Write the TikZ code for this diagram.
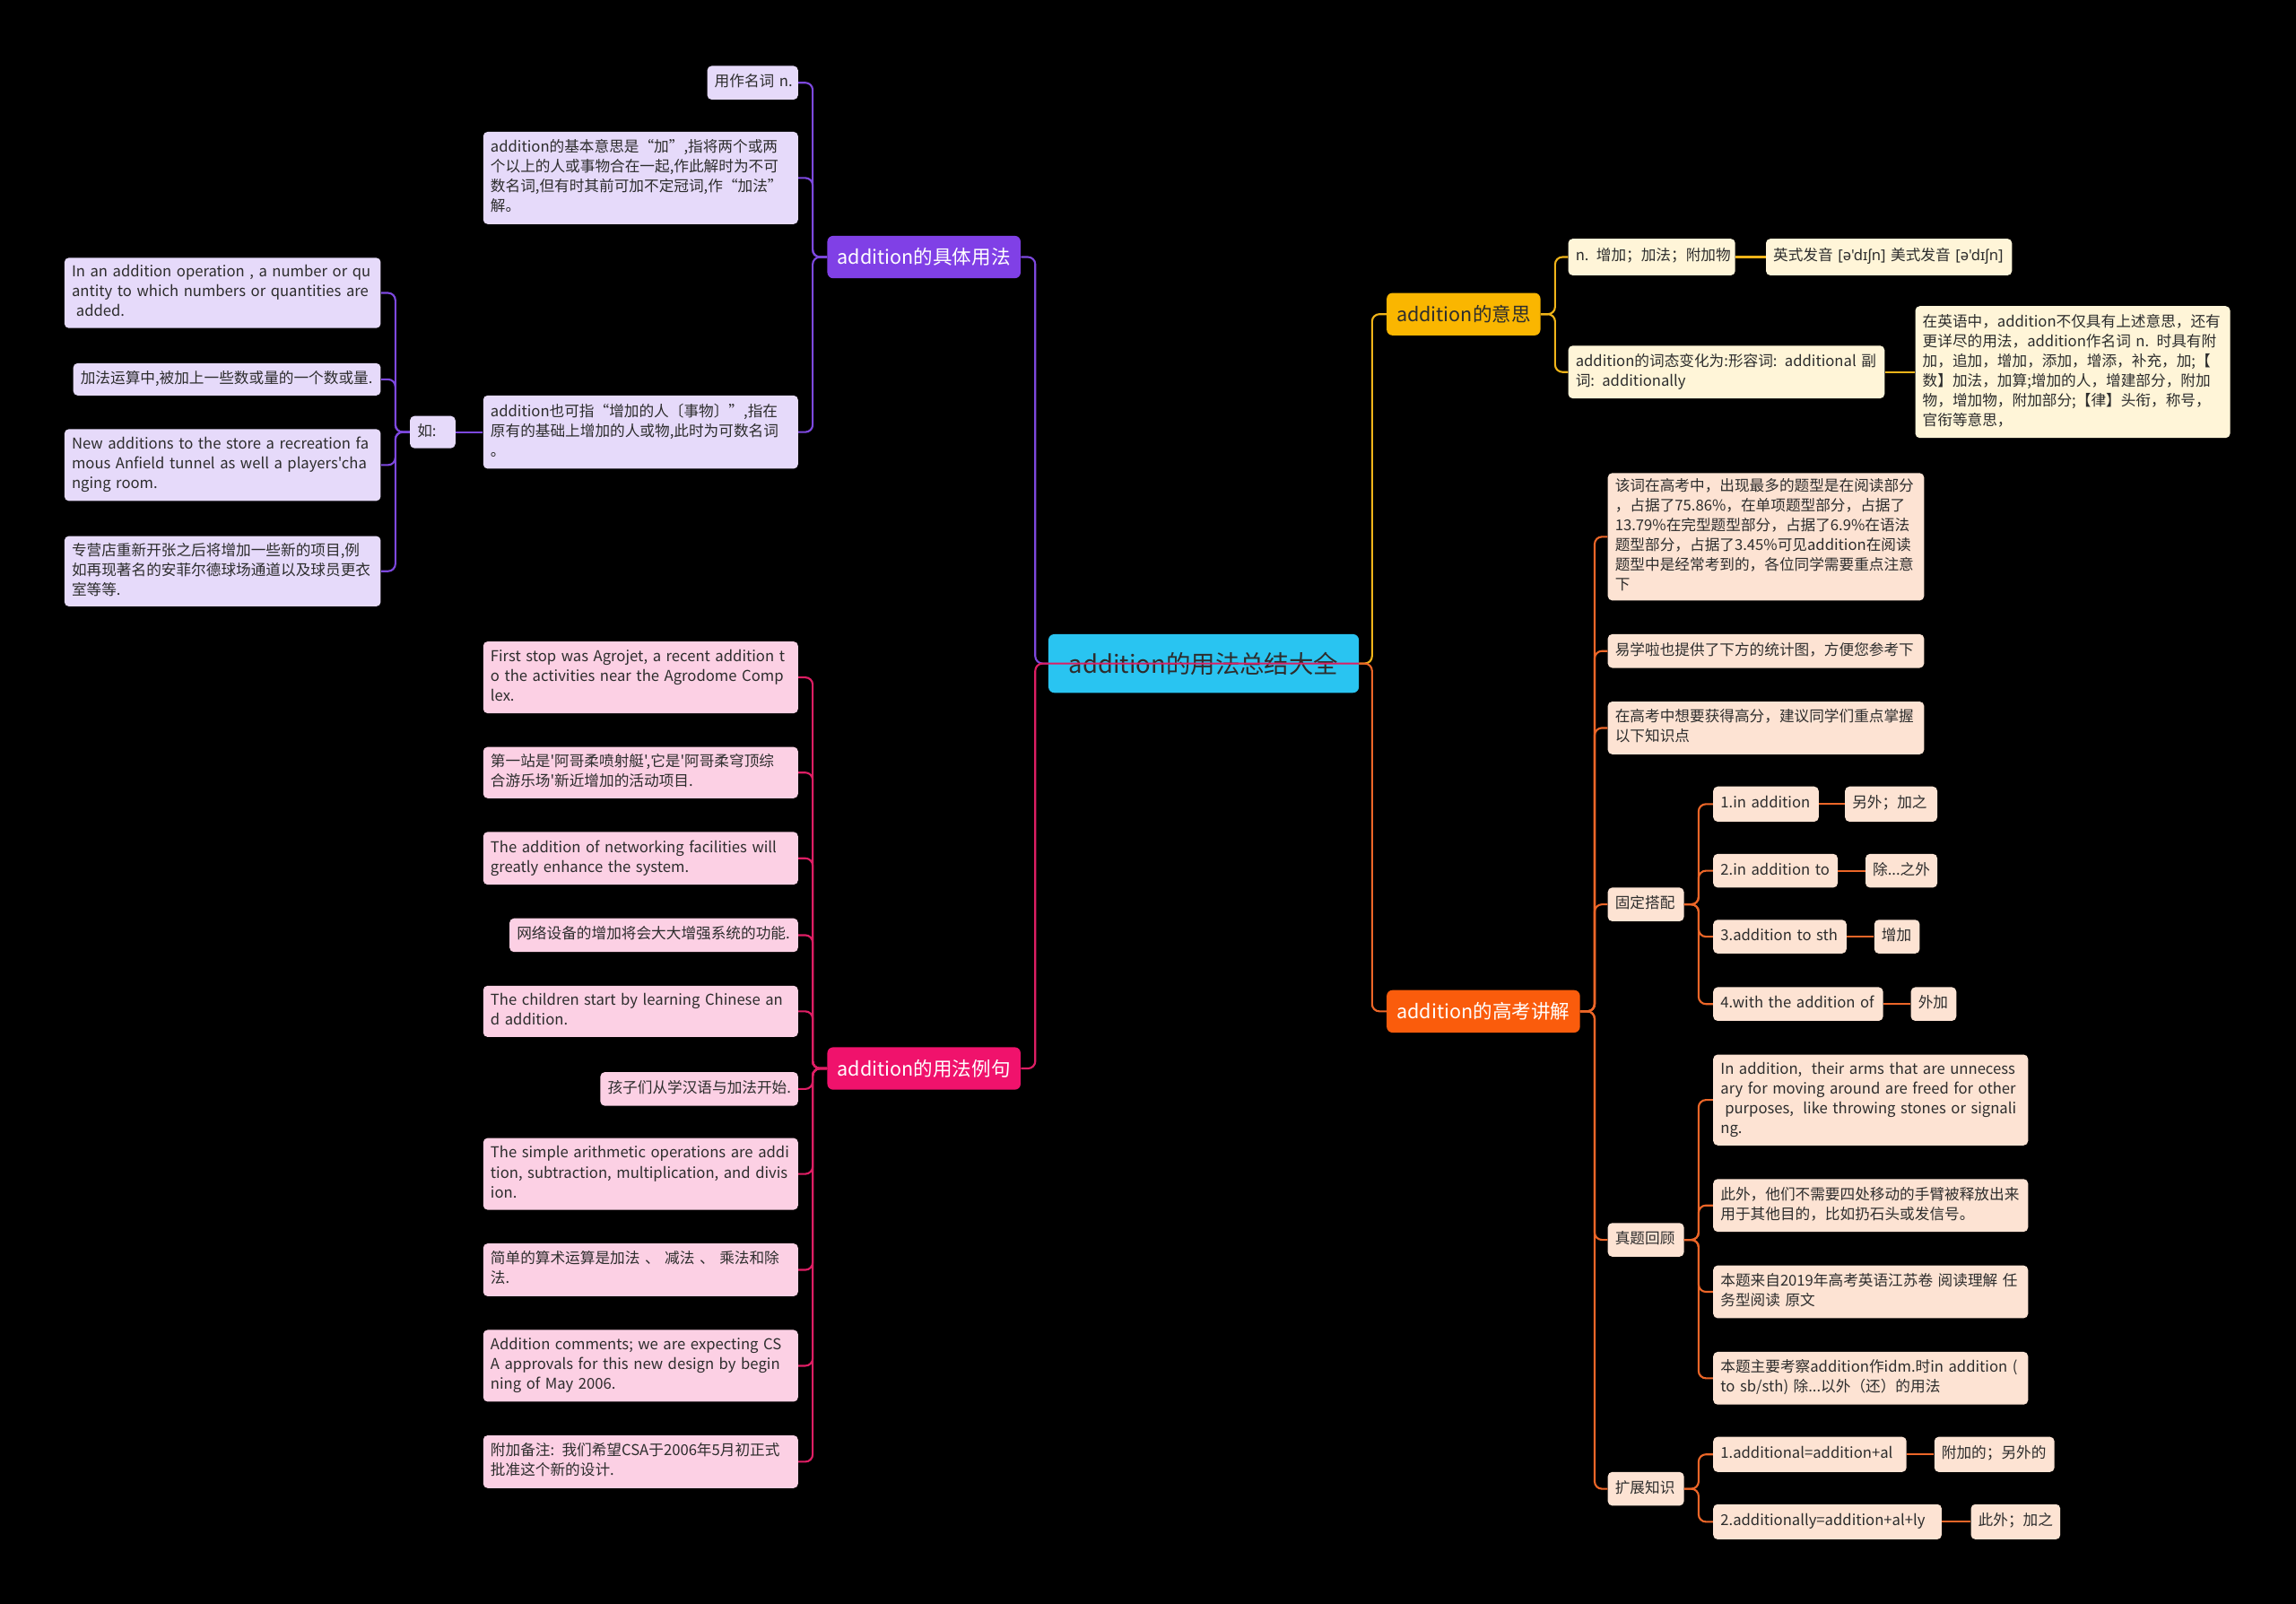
\documentclass[tikz,border=0pt]{standalone}
\usepackage{fontspec}
\setmainfont{Noto Sans CJK SC}[Ligatures=TeXOff]
\newfontfamily\ipafont{Noto Sans}[Ligatures=TeXOff]
\definecolor{bgc}{RGB}{0,0,0}
\definecolor{txtc}{RGB}{45,45,45}
\definecolor{rootc}{RGB}{41,196,241}
\definecolor{purc}{RGB}{128,64,230}
\definecolor{purl}{RGB}{125,72,222}
\definecolor{lav}{RGB}{230,218,250}
\definecolor{magc}{RGB}{240,18,108}
\definecolor{magl}{RGB}{222,30,100}
\definecolor{pnk}{RGB}{252,208,228}
\definecolor{yelc}{RGB}{250,182,0}
\definecolor{yell}{RGB}{240,180,25}
\definecolor{crm}{RGB}{255,245,216}
\definecolor{orc}{RGB}{250,92,12}
\definecolor{orl}{RGB}{236,102,40}
\definecolor{pch}{RGB}{253,227,211}
\newcommand\leaffnt{\fontsize{10.2}{13.5}\selectfont}
\newcommand\brfnt{\fontsize{13.2}{15}\selectfont}
\newcommand\rootfnt{\fontsize{16.8}{19}\selectfont}
\tikzset{
  leaf/.style={rounded corners=3pt, inner xsep=5pt, inner ysep=0pt, align=left, font=\leaffnt, text=txtc},
  lavbox/.style={leaf, fill=lav},
  pnkbox/.style={leaf, fill=pnk},
  crmbox/.style={leaf, fill=crm},
  pchbox/.style={leaf, fill=pch},
  branch/.style={rounded corners=4pt, inner sep=0pt, font=\brfnt, text=white},
  ln/.style={line width=1.3pt, rounded corners=5pt},
}
\newcommand\leafbox[7]{%
  \pgfmathsetmacro\lbw{#5-#3}\pgfmathsetmacro\lbh{#6-#4}%
  \pgfmathsetmacro\lbt{#5-#3-10}%
  \pgfmathsetmacro\lbx{(#3+#5)/2}\pgfmathsetmacro\lby{(#4+#6)/2}%
  \node[#2, minimum width=\lbw pt, minimum height=\lbh pt, text width=\lbt pt] (#1) at (\lbx,\lby) {\begin{tabular}{@{}l@{}}#7\end{tabular}};}
\newcommand\brbox[7]{%
  \pgfmathsetmacro\lbw{#5-#3}\pgfmathsetmacro\lbh{#6-#4}%
  \pgfmathsetmacro\lbx{(#3+#5)/2}\pgfmathsetmacro\lby{(#4+#6)/2}%
  \node[#2, minimum width=\lbw pt, minimum height=\lbh pt] (#1) at (\lbx,\lby) {#7};}
\begin{document}
\begin{tikzpicture}[x=1pt,y=-1pt]
\fill[bgc] (0,0) rectangle (1568,1095);
\useasboundingbox (0,0) rectangle (1568,1095);
% trunk coordinates
\coordinate (tL) at (707,0);
\coordinate (tA) at (555,0);
\coordinate (tRu) at (270,0);
\coordinate (tR) at (937,0);
\coordinate (tC) at (1062,0);
\coordinate (tD) at (1089,0);
\coordinate (tDD) at (1160,0);
% root
\brbox{root}{branch, fill=rootc, text=txtc, font=\rootfnt}{716}{433}{928}{473}{addition的用法总结大全}
% branch A
\brbox{A}{branch, fill=purc}{565}{161}{697}{190}{addition的具体用法}
\leafbox{A1}{lavbox}{483}{45}{545}{68}{用作名词 n.}
\leafbox{A2}{lavbox}{330}{90}{545}{153}{addition的基本意思是“加”,指将两个或两\\个以上的人或事物合在一起,作此解时为不可\\数名词,但有时其前可加不定冠词,作“加法”\\解。}
\leafbox{A3}{lavbox}{330}{270}{545}{320}{addition也可指“增加的人〔事物〕”,指在\\原有的基础上增加的人或物,此时为可数名词\\。}
\leafbox{ru}{lavbox}{280}{284}{311}{306}{如:}
\leafbox{L1}{lavbox}{44}{176}{260}{224}{In an addition operation , a number or qu\\antity to which numbers or quantities are\\\hspace*{3pt}added.}
\leafbox{L2}{lavbox}{50}{248}{260}{270}{加法运算中,被加上一些数或量的一个数或量.}
\leafbox{L3}{lavbox}{44}{293}{260}{342}{New additions to the store a recreation fa\\mous Anfield tunnel as well a players'cha\\nging room.}
\leafbox{L4}{lavbox}{44}{366}{260}{414}{专营店重新开张之后将增加一些新的项目,例\\如再现著名的安菲尔德球场通道以及球员更衣\\室等等.}
% branch B
\brbox{B}{branch, fill=magc}{565}{715}{697}{744}{addition的用法例句}
\leafbox{B1}{pnkbox}{330}{438}{545}{487}{First stop was Agrojet, a recent addition t\\o the activities near the Agrodome Comp\\lex.}
\leafbox{B2}{pnkbox}{330}{510}{545}{545}{第一站是'阿哥柔喷射艇',它是'阿哥柔穹顶综\\合游乐场'新近增加的活动项目.}
\leafbox{B3}{pnkbox}{330}{568}{545}{604}{The addition of networking facilities will\\greatly enhance the system.}
\leafbox{B4}{pnkbox}{348}{627}{545}{650}{网络设备的增加将会大大增强系统的功能.}
\leafbox{B5}{pnkbox}{330}{673}{545}{708}{The children start by learning Chinese an\\d addition.}
\leafbox{B6}{pnkbox}{410}{732}{545}{755}{孩子们从学汉语与加法开始.}
\leafbox{B7}{pnkbox}{330}{777}{545}{826}{The simple arithmetic operations are addi\\tion, subtraction, multiplication, and divis\\ion.}
\leafbox{B8}{pnkbox}{330}{849}{545}{885}{简单的算术运算是加法 、 减法 、 乘法和除\\法.}
\leafbox{B9}{pnkbox}{330}{908}{545}{957}{Addition comments; we are expecting CS\\A approvals for this new design by begin\\ning of May 2006.}
\leafbox{B10}{pnkbox}{330}{980}{545}{1016}{附加备注: 我们希望CSA于2006年5月初正式\\批准这个新的设计.}
% branch C
\brbox{C}{branch, fill=yelc, text=txtc}{947}{200}{1052}{229}{addition的意思}
\leafbox{C1}{crmbox}{1071}{163}{1185}{188}{n. 增加；加法；附加物}
\leafbox{C1a}{crmbox}{1206}{163}{1374}{188}{英式发音 {\ipafont[ə'dɪʃn]} 美式发音 {\ipafont[ə'dɪʃn]}}
\leafbox{C2}{crmbox}{1071}{236}{1287}{272}{addition的词态变化为:形容词: additional 副\\词: additionally}
\leafbox{C2a}{crmbox}{1308}{209}{1523}{299}{在英语中，addition不仅具有上述意思，还有\\更详尽的用法，addition作名词 n. 时具有附\\加，追加，增加，添加，增添，补充，加;【\\数】加法，加算;增加的人，增建部分，附加\\物，增加物，附加部分;【律】头衔，称号，\\官衔等意思，}
% branch D
\brbox{D}{branch, fill=orc}{947}{676}{1079}{705}{addition的高考讲解}
\leafbox{D1}{pchbox}{1098}{323}{1314}{410}{该词在高考中，出现最多的题型是在阅读部分\\，占据了75.86\%，在单项题型部分，占据了\\13.79\%在完型题型部分，占据了6.9\%在语法\\题型部分，占据了3.45\%可见addition在阅读\\题型中是经常考到的，各位同学需要重点注意\\下}
\leafbox{D2}{pchbox}{1098}{433}{1314}{456}{易学啦也提供了下方的统计图，方便您参考下}
\leafbox{D3}{pchbox}{1098}{479}{1314}{515}{在高考中想要获得高分，建议同学们重点掌握\\以下知识点}
\leafbox{D4}{pchbox}{1098}{606}{1150}{629}{固定搭配}
\leafbox{D4a}{pchbox}{1170}{537}{1242}{561}{1.in addition}
\leafbox{D4ax}{pchbox}{1260}{537}{1323}{561}{另外；加之}
\leafbox{D4b}{pchbox}{1170}{583}{1255}{606}{2.in addition to}
\leafbox{D4bx}{pchbox}{1274}{583}{1323}{606}{除...之外}
\leafbox{D4c}{pchbox}{1170}{628}{1261}{651}{3.addition to sth}
\leafbox{D4cx}{pchbox}{1280}{628}{1311}{651}{增加}
\leafbox{D4d}{pchbox}{1170}{674}{1286}{697}{4.with the addition of}
\leafbox{D4dx}{pchbox}{1305}{674}{1336}{697}{外加}
\leafbox{D5}{pchbox}{1098}{835}{1150}{858}{真题回顾}
\leafbox{D5a}{pchbox}{1170}{720}{1385}{782}{In addition,\hspace{3pt} their arms that are unnecess\\ary for moving around are freed for other\\\hspace*{3pt}purposes,\hspace{3pt} like throwing stones or signali\\ng.}
\leafbox{D5b}{pchbox}{1170}{805}{1385}{841}{此外，他们不需要四处移动的手臂被释放出来\\用于其他目的，比如扔石头或发信号。}
\leafbox{D5c}{pchbox}{1170}{864}{1385}{900}{本题来自2019年高考英语江苏卷 阅读理解 任\\务型阅读 原文}
\leafbox{D5d}{pchbox}{1170}{923}{1385}{959}{本题主要考察addition作idm.时in addition (\\to sb/sth) 除...以外（还）的用法}
\leafbox{D6}{pchbox}{1098}{1005}{1150}{1028}{扩展知识}
\leafbox{D6a}{pchbox}{1170}{981}{1302}{1005}{1.additional=addition+al}
\leafbox{D6ax}{pchbox}{1321}{981}{1403}{1005}{附加的；另外的}
\leafbox{D6b}{pchbox}{1170}{1027}{1326}{1051}{2.additionally=addition+al+ly}
\leafbox{D6bx}{pchbox}{1346}{1027}{1407}{1051}{此外；加之}
% ---------- connectors ----------
% purple
\draw[ln, purl] (A.east) -- (A.east -| tL) -- (root.west -| tL) -- (root.west);
\foreach \c in {A1,A2,A3}{\draw[ln, purl] (A.west) -- (A.west -| tA) -- (\c.east -| tA) -- (\c.east);}
\draw[ln, purl] (A3.west) -- (ru.east);
\foreach \c in {L1,L2,L3,L4}{\draw[ln, purl] (ru.west) -- (ru.west -| tRu) -- (\c.east -| tRu) -- (\c.east);}
% magenta
\draw[ln, magl] (root.east) -- (root.west -| tL) -- (B.east -| tL) -- (B.east);
\foreach \c in {B1,B2,B3,B4,B5,B6,B7,B8,B9,B10}{\draw[ln, magl] (B.west) -- (B.west -| tA) -- (\c.east -| tA) -- (\c.east);}
% yellow
\draw[ln, yell] (root.east) -- (root.east -| tR) -- (C.west -| tR) -- (C.west);
\foreach \c in {C1,C2}{\draw[ln, yell] (C.east) -- (C.east -| tC) -- (\c.west -| tC) -- (\c.west);}
\draw[ln, yell] (C1.east) -- (C1a.west);
\draw[ln, yell] (C2.east) -- (C2a.west |- C2.east);
% orange
\draw[ln, orl] (root.east) -- (root.east -| tR) -- (D.west -| tR) -- (D.west);
\foreach \c in {D1,D2,D3,D4,D5,D6}{\draw[ln, orl] (D.east) -- (D.east -| tD) -- (\c.west -| tD) -- (\c.west);}
\foreach \c in {D4a,D4b,D4c,D4d}{\draw[ln, orl] (D4.east) -- (D4.east -| tDD) -- (\c.west -| tDD) -- (\c.west);}
\foreach \c in {D5a,D5b,D5c,D5d}{\draw[ln, orl] (D5.east) -- (D5.east -| tDD) -- (\c.west -| tDD) -- (\c.west);}
\foreach \c in {D6a,D6b}{\draw[ln, orl] (D6.east) -- (D6.east -| tDD) -- (\c.west -| tDD) -- (\c.west);}
\foreach \c in {D4a,D4b,D4c,D4d,D6a,D6b}{\draw[ln, orl] (\c.east) -- (\c x.west);}
\end{tikzpicture}
\end{document}
